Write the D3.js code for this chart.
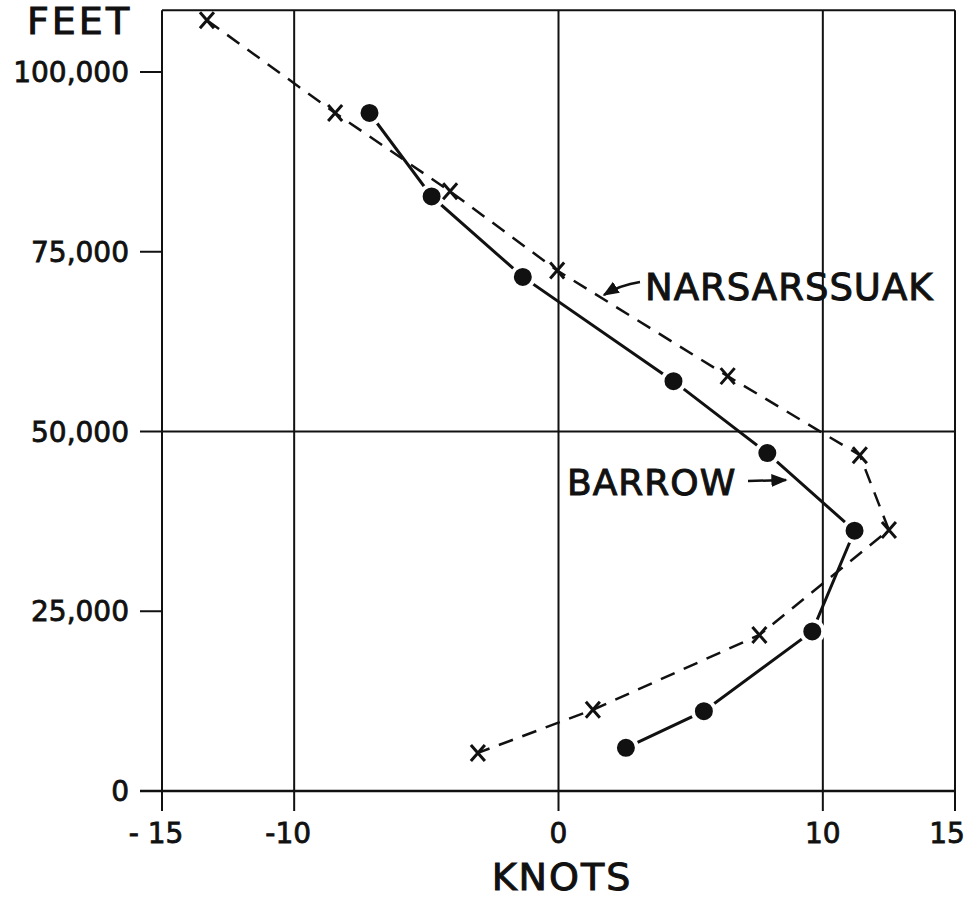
<!DOCTYPE html>
<html>
<head>
<meta charset="utf-8">
<script src="https://cdn.jsdelivr.net/npm/d3@7"></script>
<style>
  body { margin: 0; background: #fff; }
  text { font-family: "DejaVu Sans", sans-serif; fill: #111; stroke: #111; stroke-width: 0.8px; }
</style>
</head>
<body>
<script>
// tick labels
const xTicks = [-15, -10, 0, 10, 15];
const yTicks = [0, 25000, 50000, 75000, 100000];
const xGrid = [-15, -10, 0, 10, 15];
const yGrid = [50000];

// Narsarssuak (x marks, dashed)
const narKnots = [-13.3, -8.45, -4.1, -0.05, 6.4, 11.4, 12.5, 7.6, 1.3, -3.05];
const narFeet  = [107200, 94300, 83400, 72400, 57700, 46700, 36300, 21700, 11300, 5300];

// Barrow (dots, solid)
const barKnots = [-7.15, -4.8, -1.35, 4.35, 7.9, 11.2, 9.6, 5.5, 2.55];
const barFeet  = [94300, 82700, 71500, 57000, 47000, 36200, 22200, 11100, 6000];

const W = 979, H = 901;
const svg = d3.select("body").append("svg")
    .attr("width", W)
    .attr("height", H);

const x = d3.scaleLinear().domain([-15, 15]).range([162, 955]);
const y = d3.scaleLinear().domain([0, 100000]).range([791, 72]);
const yTop = 108600;

const ink = "#111";

// grid / frame
xGrid.forEach(v =>
  svg.append("line")
    .attr("x1", x(v)).attr("x2", x(v))
    .attr("y1", y(yTop)).attr("y2", y(0) + 20)
    .attr("stroke", ink).attr("stroke-width", 2)
);
svg.append("line")
  .attr("x1", x(-15)).attr("x2", x(15))
  .attr("y1", y(yTop)).attr("y2", y(yTop))
  .attr("stroke", ink).attr("stroke-width", 2);
yGrid.forEach(v =>
  svg.append("line")
    .attr("x1", x(-15)).attr("x2", x(15))
    .attr("y1", y(v)).attr("y2", y(v))
    .attr("stroke", ink).attr("stroke-width", 2)
);
svg.append("line")
  .attr("x1", x(-15) - 22).attr("x2", x(15))
  .attr("y1", y(0)).attr("y2", y(0))
  .attr("stroke", ink).attr("stroke-width", 2.5);

// y ticks
yTicks.forEach(t => {
  svg.append("line")
    .attr("x1", x(-15) - 22).attr("x2", x(-15))
    .attr("y1", y(t)).attr("y2", y(t))
    .attr("stroke", ink).attr("stroke-width", 2);
  svg.append("text")
    .attr("x", x(-15) - 33)
    .attr("y", y(t))
    .attr("dy", "0.36em")
    .attr("text-anchor", "end")
    .attr("font-size", 28)
    .text(d3.format(",")(t));
});

// x tick labels
xTicks.forEach(t => {
  svg.append("text")
    .attr("x", t === 15 ? x(t) - 8 : x(t) - (t < 0 ? 6 : 0))
    .attr("y", 843)
    .attr("text-anchor", "middle")
    .attr("font-size", 28)
    .text(t < 0 ? (t === -15 ? "- 15" : "-10") : t);
});

// axis titles
svg.append("text")
  .attr("x", 27).attr("y", 34)
  .attr("font-size", 38)
  .attr("letter-spacing", 3)
  .style("stroke-width", "1px")
  .text("FEET");
svg.append("text")
  .attr("x", 562).attr("y", 890)
  .attr("text-anchor", "middle")
  .attr("font-size", 38)
  .attr("letter-spacing", 2)
  .style("stroke-width", "1px")
  .text("KNOTS");

// lines
const line = d3.line().x(d => x(d[0])).y(d => y(d[1]));
const nar = narKnots.map((k, i) => [k, narFeet[i]]);
const bar = barKnots.map((k, i) => [k, barFeet[i]]);

svg.append("path")
  .datum(nar)
  .attr("d", line)
  .attr("fill", "none")
  .attr("stroke", ink)
  .attr("stroke-width", 2.5)
  .attr("stroke-dasharray", "15,10");

svg.append("path")
  .datum(bar)
  .attr("d", line)
  .attr("fill", "none")
  .attr("stroke", ink)
  .attr("stroke-width", 3);

// markers
svg.selectAll(".dot")
  .data(bar)
  .join("circle")
  .attr("class", "dot")
  .attr("cx", d => x(d[0]))
  .attr("cy", d => y(d[1]))
  .attr("r", 11)
  .attr("fill", ink)
  .attr("stroke", "#fff")
  .attr("stroke-width", 4);

const sx = 7, sy = 8;
svg.selectAll(".xm")
  .data(nar)
  .join("path")
  .attr("class", "xm")
  .attr("d", d => {
    const cx = x(d[0]), cy = y(d[1]);
    return `M${cx - sx},${cy - sy}L${cx + sx},${cy + sy}M${cx + sx},${cy - sy}L${cx - sx},${cy + sy}`;
  })
  .attr("stroke", ink)
  .attr("stroke-width", 3)
  .attr("fill", "none");

// labels with arrows
svg.append("defs").append("marker")
  .attr("id", "arr")
  .attr("viewBox", "0 0 10 10")
  .attr("refX", 9).attr("refY", 5)
  .attr("markerWidth", 6.5).attr("markerHeight", 6.5)
  .attr("orient", "auto")
  .append("path")
  .attr("d", "M0,1L10,5L0,9Z")
  .attr("fill", ink);

svg.append("text")
  .attr("x", 645).attr("y", 300)
  .attr("font-size", 37)
  .attr("letter-spacing", 1)
  .style("stroke-width", "1px")
  .text("NARSARSSUAK");
svg.append("path")
  .attr("d", "M640,282 Q620,285 604,295")
  .attr("fill", "none")
  .attr("stroke", ink)
  .attr("stroke-width", 2.5)
  .attr("marker-end", "url(#arr)");

svg.append("text")
  .attr("x", 567).attr("y", 495)
  .attr("font-size", 36)
  .attr("letter-spacing", 1)
  .style("stroke-width", "1px")
  .text("BARROW");
svg.append("path")
  .attr("d", "M748,481 L786,480")
  .attr("fill", "none")
  .attr("stroke", ink)
  .attr("stroke-width", 2.5)
  .attr("marker-end", "url(#arr)");
</script>
</body>
</html>
